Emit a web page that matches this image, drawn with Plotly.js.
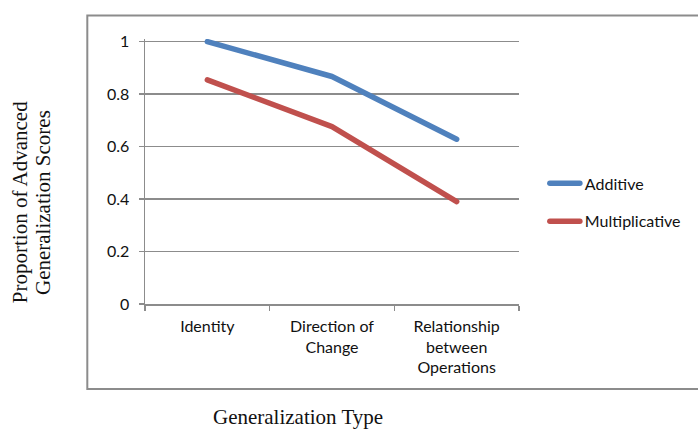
<!DOCTYPE html>
<html>
<head>
<meta charset="utf-8">
<script src="https://cdn.plot.ly/plotly-3.0.1.min.js"></script>
<style>
html,body{margin:0;padding:0;background:#fff;}
#chart{width:698px;height:429px;}
.js-line{stroke-linecap:round !important;stroke-linejoin:round !important;}
</style>
</head>
<body>
<div id="chart"></div>
<script>
var categories = ["Identity", "Direction of<br>Change", "Relationship<br>between<br>Operations"];
var additive = [1.0, 0.867, 0.628];
var multiplicative = [0.854, 0.676, 0.39];
var seriesNames = ["Additive", "Multiplicative"];
var yTickVals = [0, 0.2, 0.4, 0.6, 0.8, 1];
var yTickText = ["0", "0.2", "0.4", "0.6", "0.8", "1"];
var yTitleLines = ["Proportion of Advanced", "Generalization Scores"];
var xTitle = "Generalization Type";

var tickFont = {family: "Lato, 'Open Sans', sans-serif", size: 16, color: "#111"};
var serifFont = {family: "'Liberation Serif', 'DejaVu Serif', serif", size: 21, color: "#111"};
var gridColor = "#8c8c8c";

// plot-area geometry helpers (pixels -> paper)
var L = 145, R = 521, T = 39.1, B = 304;
function px(x) { return (x - L) / (R - L); }
function py(y) { return (B - y) / (B - T); }

var traces = [
  {x: categories, y: additive, name: seriesNames[0], type: "scatter", mode: "lines",
   line: {color: "#4F81BD", width: 5.5}, legendgroup: "a"},
  {x: categories, y: multiplicative, name: seriesNames[1], type: "scatter", mode: "lines",
   line: {color: "#C0504D", width: 5.5}, legendgroup: "m"}
];

var layout = {
  width: 698, height: 429,
  margin: {l: L, r: 698 - R, t: T, b: 429 - B},
  paper_bgcolor: "#fff", plot_bgcolor: "#fff",
  showlegend: true,
  legend: {x: px(547), xanchor: "left", y: py(202.5), yanchor: "middle",
           font: tickFont, tracegroupgap: 14, bgcolor: "rgba(0,0,0,0)"},
  xaxis: {type: "category", range: [-0.5, 2.5], showline: true, linecolor: gridColor, linewidth: 1.5,
          ticks: "outside", tickson: "boundaries", ticklen: 5, tickcolor: gridColor, tickwidth: 1.5,
          showgrid: false, zeroline: false, tickfont: tickFont, ticklabelstandoff: 7, automargin: false},
  yaxis: {range: [0, 1.01], tickvals: yTickVals, ticktext: yTickText, showline: true, linecolor: gridColor,
          linewidth: 1.5, ticks: "outside", ticklen: 5, tickcolor: gridColor, tickwidth: 1.5,
          showgrid: true, gridcolor: gridColor, gridwidth: 1.5, zeroline: false, tickfont: tickFont,
          ticklabelstandoff: 6, automargin: false},
  shapes: [{type: "rect", xref: "paper", yref: "paper", x0: px(87), x1: px(760), y0: py(389), y1: py(15.7),
            line: {color: gridColor, width: 2}, fillcolor: "rgba(0,0,0,0)", layer: "below"}],
  annotations: [
    {text: yTitleLines[0], xref: "paper", yref: "paper", x: px(20), y: py(202.5),
     xanchor: "center", yanchor: "middle", textangle: -90, showarrow: false, font: serifFont},
    {text: yTitleLines[1], xref: "paper", yref: "paper", x: px(43), y: py(202.5),
     xanchor: "center", yanchor: "middle", textangle: -90, showarrow: false, font: serifFont},
    {text: xTitle, xref: "paper", yref: "paper", x: px(299), y: py(417),
     xanchor: "center", yanchor: "middle", showarrow: false, font: serifFont}
  ]
};

Plotly.newPlot("chart", traces, layout, {staticPlot: true, displayModeBar: false});
</script>
</body>
</html>
